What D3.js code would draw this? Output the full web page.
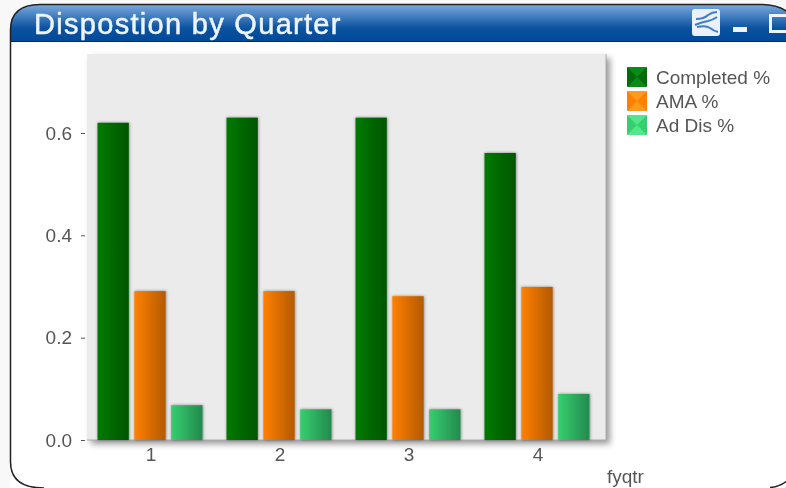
<!DOCTYPE html>
<html>
<head>
<meta charset="utf-8">
<script src="https://cdnjs.cloudflare.com/ajax/libs/d3/7.8.5/d3.min.js"></script>
<style>
html, body { margin: 0; padding: 0; background: #fff; overflow: hidden; }
svg { display: block; font-family: "Liberation Sans", Arial, sans-serif; }
.tick text, .legend-label, .axis-title { fill: #555; font-size: 19px; }
</style>
</head>
<body>
<svg width="786" height="488"></svg>
<script>
const title = "Dispostion by Quarter";
const quarters = ["1", "2", "3", "4"];
const seriesNames = ["Completed %", "AMA %", "Ad Dis %"];
const completed = [0.62, 0.63, 0.63, 0.561];
const ama = [0.291, 0.291, 0.281, 0.299];
const adDis = [0.068, 0.06, 0.06, 0.09];
const yTicks = [0, 0.2, 0.4, 0.6];
const seriesValues = [completed, ama, adDis];

const svg = d3.select("svg");
const defs = svg.append("defs");

function hGrad(id, c1, c2) {
    const g = defs.append("linearGradient").attr("id", id);
    g.append("stop").attr("offset", "0%").attr("stop-color", c1);
    g.append("stop").attr("offset", "100%").attr("stop-color", c2);
}
hGrad("bar0", "#007a00", "#005500");
hGrad("bar1", "#ff8000", "#b35a00");
hGrad("bar2", "#36cf70", "#23894d");

const tg = defs.append("linearGradient").attr("id", "titleGrad").attr("x2", 0).attr("y2", 1);
tg.append("stop").attr("offset", "0%").attr("stop-color", "#7aa9de");
tg.append("stop").attr("offset", "65%").attr("stop-color", "#0b529f");
tg.append("stop").attr("offset", "100%").attr("stop-color", "#004a99");

const shadow = defs.append("filter").attr("id", "shadow")
    .attr("x", "-10%").attr("y", "-10%").attr("width", "125%").attr("height", "125%");
shadow.append("feDropShadow").attr("dx", 4).attr("dy", 4).attr("stdDeviation", 3)
    .attr("flood-color", "#000").attr("flood-opacity", 0.4);
const barShadow = defs.append("filter").attr("id", "barShadow")
    .attr("x", "-20%").attr("y", "-10%").attr("width", "150%").attr("height", "120%");
barShadow.append("feDropShadow").attr("dx", 0.5).attr("dy", 0).attr("stdDeviation", 1.5)
    .attr("flood-color", "#000").attr("flood-opacity", 0.45);
const soft = defs.append("filter").attr("id", "soft");
soft.append("feGaussianBlur").attr("stdDeviation", 0.5);

// window frame
svg.append("rect").attr("width", 786).attr("height", 488).attr("fill", "#f8f8f8");
svg.append("path")
    .attr("d", "M10.5,500 V30 Q10.5,4.5 40,4.5 H760 Q786,4.5 800,30 V470 L770,500 Z")
    .attr("fill", "#fff");
svg.append("path")
    .attr("d", "M10.5,41 V30 Q10.5,4.5 40,4.5 H760 Q780,4.5 790,14 V41 Z")
    .attr("fill", "url(#titleGrad)");
svg.append("path")
    .attr("d", "M44,488 Q10.5,488 10.5,462 V30 Q10.5,4.5 40,4.5 H760 Q780,4.5 790,14")
    .attr("fill", "none").attr("stroke", "#222").attr("stroke-width", 1.5);
svg.append("path").attr("d", "M770,487.5 Q780,487 788,480")
    .attr("fill", "none").attr("stroke", "#222").attr("stroke-width", 1.5);
svg.append("line").attr("x1", 10).attr("x2", 786).attr("y1", 41.5).attr("y2", 41.5)
    .attr("stroke", "#222").attr("stroke-width", 1.2);
svg.append("text").attr("x", 34).attr("y", 34).attr("fill", "#eef4fb")
    .attr("stroke", "#eef4fb").attr("stroke-width", 0.5)
    .attr("font-size", 29).attr("letter-spacing", 1.3)
    .attr("filter", "url(#soft)").text(title);

// window buttons
const icon = svg.append("g");
icon.append("rect").attr("x", 692).attr("y", 9).attr("width", 28).attr("height", 27).attr("rx", 3).attr("fill", "#eaf1fa");
["M696,19 Q704,19 708,15 Q712,12 717,12", "M695,25 Q702,22 708,21 Q713,20 717,17", "M697,27 Q706,25 710,28 Q714,31 718,32"]
    .forEach(d => icon.append("path").attr("d", d).attr("fill", "none").attr("stroke", "#3f7fc4").attr("stroke-width", 2));
icon.append("rect").attr("x", 733).attr("y", 27).attr("width", 14).attr("height", 5).attr("fill", "#eef4fb");
icon.append("rect").attr("x", 770.5).attr("y", 15.5).attr("width", 20).attr("height", 16)
    .attr("fill", "none").attr("stroke", "#eef4fb").attr("stroke-width", 3);

// scales
const plot = {left: 87, right: 606, top: 54, bottom: 440};
const y = d3.scaleLinear().domain([0, 0.6]).range([440, 133]);
const x0 = d3.scaleBand().domain(quarters).range([85.5, 601.5]).paddingInner(0.186).paddingOuter(0.093);
const x1 = d3.scaleBand().domain(seriesNames).range([0, x0.bandwidth()]).paddingInner(0.15);

// plot area
svg.append("rect").attr("x", plot.left).attr("y", plot.top)
    .attr("width", plot.right - plot.left).attr("height", plot.bottom - plot.top)
    .attr("fill", "#ebebeb").attr("filter", "url(#shadow)");
svg.append("path")
    .attr("d", `M${plot.left},${plot.bottom} H${plot.right} V${plot.top}`)
    .attr("fill", "none").attr("stroke", "#aaa");

// bars
const groups = svg.append("g").selectAll("g")
    .data(quarters)
    .join("g")
    .attr("transform", d => `translate(${x0(d)},0)`);

groups.selectAll("rect")
    .data((q, i) => seriesNames.map((s, k) => ({s, k, v: seriesValues[k][i]})))
    .join("rect")
    .attr("x", d => x1(d.s))
    .attr("y", d => y(d.v))
    .attr("width", x1.bandwidth())
    .attr("height", d => y(0) - y(d.v))
    .attr("fill", d => `url(#bar${d.k})`)
    .attr("filter", "url(#barShadow)");

// axes
const yAxis = d3.axisLeft(y).tickValues(yTicks).tickFormat(d3.format(".1f")).tickSize(6).tickPadding(9);
svg.append("g").attr("transform", `translate(${plot.left},0)`).call(yAxis)
    .call(g => g.select(".domain").remove())
    .call(g => g.selectAll("line").attr("stroke", "#555").attr("x2", -4).attr("transform", "translate(-2,0)"))
    .call(g => g.selectAll("text").attr("filter", "url(#soft)"));

const xAxis = d3.axisBottom(x0).tickSize(0).tickPadding(8);
svg.append("g").attr("transform", `translate(1,${plot.bottom})`).call(xAxis)
    .call(g => g.select(".domain").remove())
    .call(g => g.selectAll("text").attr("filter", "url(#soft)"));

svg.append("text").attr("class", "axis-title").attr("x", 607).attr("y", 483)
    .attr("filter", "url(#soft)").text("fyqtr");

// legend
const legendColors = [["#0a8a16", "#046b0a"], ["#ff9a1e", "#ff7f00"], ["#55e68c", "#36cf70"]];
const legend = svg.append("g").selectAll("g")
    .data(seriesNames)
    .join("g")
    .attr("transform", (d, i) => `translate(627,${67 + i * 24})`);
legend.append("rect").attr("width", 20).attr("height", 20).attr("rx", 1)
    .attr("fill", (d, i) => legendColors[i][0]);
legend.append("path").attr("d", "M0,0 L10,10 L0,20 Z M20,0 L10,10 L20,20 Z")
    .attr("fill", (d, i) => legendColors[i][1]);
legend.append("text").attr("class", "legend-label").attr("x", 29).attr("y", 17)
    .attr("filter", "url(#soft)").text(d => d);
</script>
</body>
</html>
